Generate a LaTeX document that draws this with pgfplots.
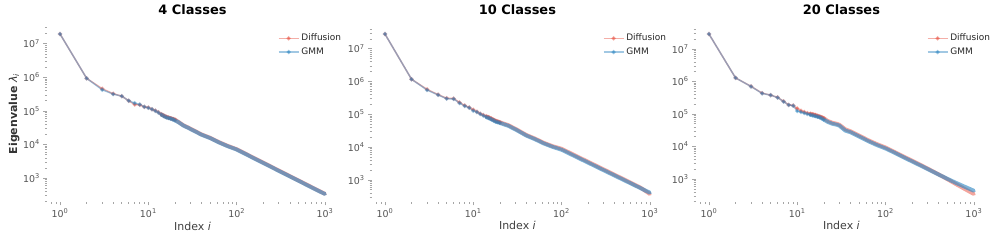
\documentclass[border=0pt]{standalone}
\usepackage{fontspec}
\setmainfont{DejaVu Sans}
\usepackage{pgfplots}
\pgfplotsset{compat=1.18}
\usepackage{pgfplotstable}
\definecolor{diff}{HTML}{E74C3C}
\definecolor{gmm}{HTML}{2E86C1}
\definecolor{ticklab}{HTML}{555555}

\pgfplotstableread{
i d g
1 1.95e7 1.95e7
2 9.33e5 9.33e5
3 4.57e5 4.27e5
4 3.24e5 3.16e5
5 2.75e5 2.75e5
6 2.00e5 2.00e5
7 1.55e5 1.70e5
8 1.51e5 1.55e5
9 1.32e5 1.32e5
10 1.26e5 1.23e5
11 1.12e5 1.12e5
12 1.02e5 1.00e5
13 9.12e4 8.91e4
14 7.94e4 7.76e4
15 7.08e4 6.92e4
16 6.61e4 6.46e4
17 6.31e4 6.17e4
18 6.03e4 5.89e4
19 5.75e4 5.62e4
20 5.50e4 5.25e4
}\headA
\pgfplotstableread{
i d g
14 7.94e4 7.76e4
16 6.61e4 6.46e4
18 6.03e4 5.89e4
20 5.50e4 5.25e4
22 4.68e4 4.57e4
25 3.72e4 3.63e4
28 3.24e4 3.16e4
30 2.95e4 2.88e4
40 2.00e4 1.95e4
50 1.585e4 1.55e4
63 1.175e4 1.15e4
79 9.12e3 8.90e3
100 7.24e3 7.08e3
126 5.33e3 5.20e3
158 3.93e3 3.84e3
200 2.89e3 2.82e3
251 2.13e3 2.08e3
316 1.567e3 1.53e3
398 1.153e3 1.13e3
501 849 832
631 625 612
794 460 452
1000 339 335
}\tailA

\pgfplotstableread{
i d g
1 2.82e7 2.82e7
2 1.175e6 1.175e6
3 5.75e5 5.50e5
4 3.98e5 3.90e5
5 3.09e5 3.00e5
6 3.02e5 2.95e5
7 2.29e5 2.20e5
8 1.86e5 1.80e5
9 1.62e5 1.58e5
10 1.38e5 1.29e5
11 1.20e5 1.17e5
12 1.05e5 1.02e5
13 9.55e4 9.10e4
14 8.71e4 8.30e4
15 8.13e4 7.80e4
16 7.41e4 7.10e4
17 6.76e4 6.50e4
18 6.31e4 6.00e4
19 6.03e4 5.75e4
20 5.75e4 5.50e4
}\headB
\pgfplotstableread{
i d g
14 8.71e4 8.30e4
16 7.41e4 7.10e4
18 6.31e4 6.00e4
20 5.75e4 5.50e4
22 5.25e4 5.00e4
25 4.68e4 4.45e4
28 3.98e4 3.80e4
30 3.63e4 3.47e4
40 2.34e4 2.24e4
50 1.82e4 1.74e4
63 1.35e4 1.29e4
79 1.07e4 1.02e4
100 8.91e3 8.32e3
126 6.56e3 6.15e3
158 4.85e3 4.55e3
200 3.57e3 3.36e3
251 2.64e3 2.48e3
316 1.95e3 1.84e3
398 1.44e3 1.36e3
501 1.06e3 1.007e3
631 778 745
794 569 551
1000 372 407
}\tailB

\pgfplotstableread{
i d g
1 2.88e7 2.88e7
2 1.29e6 1.29e6
3 7.08e5 7.00e5
4 4.37e5 4.30e5
5 3.80e5 3.80e5
6 3.24e5 3.20e5
7 2.45e5 2.40e5
8 1.91e5 1.90e5
9 1.82e5 1.80e5
10 1.48e5 1.23e5
11 1.26e5 1.15e5
12 1.15e5 1.07e5
13 1.07e5 1.00e5
14 1.02e5 9.55e4
15 9.77e4 9.12e4
16 9.33e4 8.71e4
17 8.71e4 8.32e4
18 8.32e4 7.94e4
19 7.94e4 7.41e4
20 7.41e4 6.76e4
}\headC
\pgfplotstableread{
i d g
14 1.02e5 9.55e4
16 9.33e4 8.71e4
18 8.32e4 7.94e4
20 7.41e4 6.76e4
22 6.17e4 5.75e4
25 5.37e4 5.01e4
28 5.01e4 4.68e4
30 4.68e4 4.37e4
35 3.39e4 3.09e4
40 2.95e4 2.75e4
50 2.19e4 2.04e4
63 1.585e4 1.48e4
79 1.20e4 1.12e4
100 9.33e3 8.71e3
126 6.84e3 6.46e3
158 5.01e3 4.73e3
200 3.67e3 3.47e3
251 2.69e3 2.57e3
316 1.95e3 1.88e3
398 1.40e3 1.38e3
501 989 1020
631 692 759
794 490 575
1000 347 437
}\tailC

\pgfplotsset{
  /pgfplots/mypanel/.style={
    scale only axis, width=291.4bp, height=176bp,
    anchor=south west,
    xmin=0.7079, xmax=1412.5,
    axis x line*=bottom, axis y line*=left,
    axis line style={draw=none},
    tick align=outside,
    major tick length=3.5bp, minor tick length=2bp,
    tick style={black!35, line width=0.6bp},
    xtick={1,10,100,1000},
    xticklabels={10\textsuperscript{0},10\textsuperscript{1},10\textsuperscript{2},10\textsuperscript{3}},
    minor xtick={0.8,0.9,2,3,4,5,6,7,8,9,20,30,40,50,60,70,80,90,200,300,400,500,600,700,800,900},
    ytick={1e3,1e4,1e5,1e6,1e7},
    yticklabels={10\textsuperscript{3},10\textsuperscript{4},10\textsuperscript{5},10\textsuperscript{6},10\textsuperscript{7}},
    minor ytick={200,300,400,500,600,700,800,900,2000,3000,4000,5000,6000,7000,8000,9000,20000,30000,40000,50000,60000,70000,80000,90000,2e5,3e5,4e5,5e5,6e5,7e5,8e5,9e5,2e6,3e6,4e6,5e6,6e6,7e6,8e6,9e6,2e7,3e7,4e7},
    tick label style={text=ticklab, font=\fontsize{9.5}{9.5}\selectfont},
    xlabel={Index \textit{i}},
    xlabel style={at={(0.5,0)}, anchor=base, yshift=-28bp, font=\fontsize{11}{11}\selectfont, text=black!75},
    title style={at={(0.5,1)}, anchor=base, yshift=6bp, font=\bfseries\fontsize{13}{13}\selectfont},
    legend style={draw=none, fill=none, at={(1,1)}, anchor=north east, xshift=8bp, yshift=-4bp,
      font=\fontsize{9}{9}\selectfont, row sep=1.5bp, text=black!85},
    legend cell align=left,
    legend image code/.code={\draw[mark repeat=2,mark phase=2,##1] plot coordinates {(0bp,0bp) (10bp,0bp) (20bp,0bp)};},
    clip=false,
  },
  /pgfplots/dhead/.style={diff, opacity=0.45, line width=1.5bp, mark=*, mark size=1.3bp},
  /pgfplots/ghead/.style={gmm, opacity=0.45, line width=1.5bp, mark=*, mark size=1.3bp},
  /pgfplots/dtail/.style={diff, opacity=0.5, line width=3.9bp, line cap=round, line join=round},
  /pgfplots/gtail/.style={gmm, opacity=0.62, line width=3.9bp, line cap=round, line join=round},
}

\begin{document}
\begin{tikzpicture}
\useasboundingbox (0,0) rectangle (997bp,241bp);

\begin{loglogaxis}[mypanel, at={(46.8bp,39bp)}, ymin=194, ymax=3.37e7,
  title={4 Classes},
  ylabel={\textbf{Eigenvalue} \textit{λ}\textsubscript{\textit{i}}},
  ylabel style={at={(axis description cs:-0.112,0.5)}, anchor=center, rotate=0, font=\fontsize{11}{11}\selectfont, text=black!80}]
\addplot[dhead] table[x=i,y=d]{\headA};
\addlegendentry{Diffusion}
\addplot[dtail, forget plot] table[x=i,y=d]{\tailA};
\addplot[ghead] table[x=i,y=g]{\headA};
\addlegendentry{GMM}
\addplot[gtail, forget plot] table[x=i,y=g]{\tailA};
\end{loglogaxis}

\begin{loglogaxis}[mypanel, at={(371.7bp,39bp)}, ymin=212, ymax=4.94e7,
  title={10 Classes}]
\addplot[dhead] table[x=i,y=d]{\headB};
\addlegendentry{Diffusion}
\addplot[dtail, forget plot] table[x=i,y=d]{\tailB};
\addplot[ghead] table[x=i,y=g]{\headB};
\addlegendentry{GMM}
\addplot[gtail, forget plot] table[x=i,y=g]{\tailB};
\end{loglogaxis}

\begin{loglogaxis}[mypanel, at={(695.7bp,39bp)}, ymin=197, ymax=5.08e7,
  title={20 Classes}]
\addplot[dhead] table[x=i,y=d]{\headC};
\addlegendentry{Diffusion}
\addplot[dtail, forget plot] table[x=i,y=d]{\tailC};
\addplot[ghead] table[x=i,y=g]{\headC};
\addlegendentry{GMM}
\addplot[gtail, forget plot] table[x=i,y=g]{\tailC};
\end{loglogaxis}
\end{tikzpicture}
\end{document}
